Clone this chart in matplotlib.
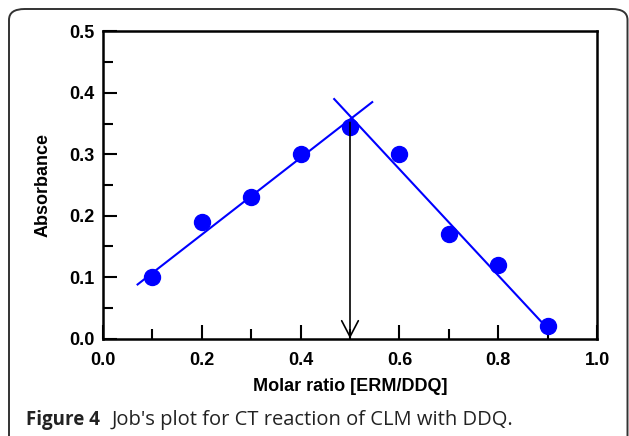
import matplotlib
matplotlib.use("Agg")
import matplotlib.pyplot as plt
from matplotlib.patches import FancyBboxPatch
from matplotlib.ticker import MultipleLocator

# Data
molar_ratio = [0.1, 0.2, 0.3, 0.4, 0.5, 0.6, 0.7, 0.8, 0.9]
absorbance = [0.10, 0.19, 0.23, 0.30, 0.345, 0.30, 0.17, 0.12, 0.02]
fit1_x = [0.07, 0.545]
fit1_y = [0.088, 0.385]
fit2_x = [0.468, 0.898]
fit2_y = [0.390, 0.018]
arrow_x = 0.5
arrow_top = 0.352
xticks = [0.0, 0.2, 0.4, 0.6, 0.8, 1.0]
yticks = [0.0, 0.1, 0.2, 0.3, 0.4, 0.5]

fig = plt.figure(figsize=(6.29, 4.36), dpi=100)
W, H = 629, 436
ax = fig.add_axes([103 / W, 1 - 338.5 / H, (597 - 103) / W, (338.5 - 31.5) / H])

ax.plot(fit1_x, fit1_y, color="#0000ff", lw=1.5, zorder=2)
ax.plot(fit2_x, fit2_y, color="#0000ff", lw=1.5, zorder=2)
ax.plot(molar_ratio, absorbance, "o", color="#0000ff", ms=11.5, mec="#0000ff", zorder=3, clip_on=False)
ax.annotate("", xy=(arrow_x, 0.0), xytext=(arrow_x, arrow_top),
            arrowprops=dict(arrowstyle="->,head_length=1.15,head_width=0.6", color="black", lw=1.2,
                            shrinkA=0, shrinkB=0), zorder=4)

ax.set_xlim(0, 1.0)
ax.set_ylim(0, 0.5)
ax.set_xticks(xticks)
ax.set_yticks(yticks)
ax.xaxis.set_minor_locator(MultipleLocator(0.1))
ax.yaxis.set_minor_locator(MultipleLocator(0.05))
ax.set_xticklabels([f"{v:.1f}" for v in xticks])
ax.set_yticklabels([f"{v:.1f}" for v in yticks])
ax.tick_params(which="both", direction="in", top=False, right=False, width=1.5, color="black")
ax.tick_params(which="major", length=10, labelsize=13)
ax.tick_params(axis="x", which="major", pad=10)
ax.tick_params(axis="y", which="major", pad=6)
ax.tick_params(which="minor", length=7)
for lab in ax.get_xticklabels() + ax.get_yticklabels():
    lab.set_fontfamily("Liberation Sans")
    lab.set_fontweight("bold")
for sp in ax.spines.values():
    sp.set_linewidth(1.8)

ax.set_xlabel("Molar ratio [ERM/DDQ]", fontfamily="Liberation Sans", fontweight="bold", fontsize=13, labelpad=6)
ax.set_ylabel("Absorbance", fontfamily="Liberation Sans", fontweight="bold", fontsize=13, labelpad=13)

# Outer rounded frame
frame = FancyBboxPatch((9 / W, -0.2), (W - 1.5 - 9) / W, (H - 9) / H + 0.2,
                       boxstyle="round,pad=0,rounding_size=0.025", transform=fig.transFigure,
                       fill=False, edgecolor="#333333", lw=1.4, clip_on=False)
fig.patches.append(frame)

# Caption
fig.text(26 / W, 1 - 420 / H, "Figure 4", fontfamily="Open Sans", fontweight="bold", fontsize=13.5,
         va="center", ha="left", color="#222222")
fig.text(112 / W, 1 - 420 / H, "Job's plot for CT reaction of CLM with DDQ.", fontfamily="Open Sans",
         fontsize=14.5, va="center", ha="left", color="#222222")

fig.savefig("out.png", dpi=100)
